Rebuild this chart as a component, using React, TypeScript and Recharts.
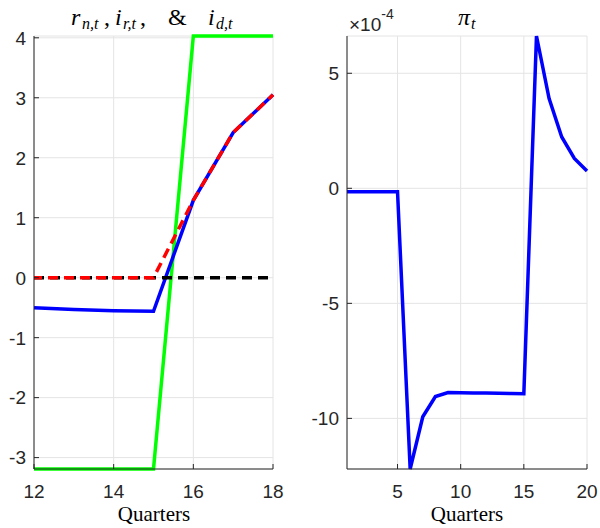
import React from 'react';
import { LineChart, Line, XAxis, YAxis, CartesianGrid } from 'recharts';

// left panel: rates, quarters 12..18
const leftQuarters = [12, 13, 14, 15, 16, 17, 18];
const iD = [-3.19, -3.19, -3.19, -3.19, 4.03, 4.03, 4.03];
const rN = [-0.5, -0.53, -0.55, -0.56, 1.29, 2.42, 3.05];
const iR = [0, 0, 0, 0, 1.29, 2.42, 3.05];
const zero = [0, 0, 0, 0, 0, 0, 0];
const leftXTicks = [12, 14, 16, 18];
const leftYTicks = [-3, -2, -1, 0, 1, 2, 3, 4];

// right panel: inflation (x 1e-4), quarters 1..20
const rightQuarters = [1, 2, 3, 4, 5, 6, 7, 8, 9, 10, 11, 12, 13, 14, 15, 16, 17, 18, 19, 20];
const piT = [-0.15, -0.15, -0.15, -0.15, -0.15, -12.2, -9.93, -9.05, -8.88, -8.89, -8.9, -8.9, -8.91, -8.92, -8.93, 6.62, 3.9, 2.23, 1.3, 0.75];
const rightXTicks = [5, 10, 15, 20];
const rightYTicks = [-10, -5, 0, 5];

const leftData = leftQuarters.map((q, i) => ({ q, iD: iD[i], rN: rN[i], iR: iR[i], zero: zero[i] }));
const rightData = rightQuarters.map((q, i) => ({ q, pi: piT[i] }));

const PLOT_TOP = 36;
const PLOT_BOTTOM = 469;
const AXIS = '#262626';
const GRID = '#e4e4e4';
const SANS = '"Liberation Sans", Arial, sans-serif';
const SERIF = '"Liberation Serif", "Times New Roman", serif';
const LW = 3.5;

const makeYTick = (axisX: number) => (props: any) => {
  const { y, payload } = props;
  return (
    <g>
      <line x1={axisX} x2={axisX + 5} y1={y} y2={y} stroke={AXIS} />
      <text x={axisX - 8} y={y} dy="0.36em" textAnchor="end" fill={AXIS} fontSize={19} fontFamily={SANS}>
        {String(payload.value)}
      </text>
    </g>
  );
};

const XTick = (props: any) => {
  const { x, payload } = props;
  return (
    <g>
      <line x1={x} x2={x} y1={PLOT_BOTTOM} y2={PLOT_BOTTOM - 5} stroke={AXIS} />
      <text x={x} y={PLOT_BOTTOM + 22} dy="0.36em" textAnchor="middle" fill={AXIS} fontSize={19} fontFamily={SANS}>
        {String(payload.value)}
      </text>
    </g>
  );
};

export default function App() {
  return (
    <div style={{ position: 'absolute', left: 0, top: 0, width: 600, height: 528, background: '#fff' }}>
      <div style={{ display: 'flex' }}>
        <LineChart width={300} height={528} data={leftData} margin={{ top: PLOT_TOP, right: 27, bottom: 0, left: 0 }}>
          <CartesianGrid stroke={GRID} />
          <XAxis
            dataKey="q"
            type="number"
            domain={[12, 18]}
            ticks={leftXTicks}
            height={528 - PLOT_BOTTOM}
            stroke={AXIS}
            tickLine={false}
            tick={XTick}
          />
          <YAxis
            type="number"
            domain={[-3.19, 4.03]}
            ticks={leftYTicks}
            width={34}
            stroke={AXIS}
            tickLine={false}
            tick={makeYTick(34)}
          />
          <Line dataKey="iD" stroke="#00ff00" strokeWidth={LW} dot={false} isAnimationActive={false} />
          <Line dataKey="rN" stroke="#0000ff" strokeWidth={LW} dot={false} isAnimationActive={false} />
          <Line dataKey="zero" stroke="#000" strokeWidth={LW} strokeDasharray="10 6" dot={false} isAnimationActive={false} />
          <Line dataKey="iR" stroke="#ff0000" strokeWidth={LW} strokeDasharray="10 6" strokeDashoffset={2} dot={false} isAnimationActive={false} />
        </LineChart>
        <LineChart width={300} height={528} data={rightData} margin={{ top: PLOT_TOP, right: 13, bottom: 0, left: 0 }}>
          <CartesianGrid stroke={GRID} />
          <XAxis
            dataKey="q"
            type="number"
            domain={[1, 20]}
            ticks={rightXTicks}
            height={528 - PLOT_BOTTOM}
            stroke={AXIS}
            tickLine={false}
            tick={XTick}
          />
          <YAxis
            type="number"
            domain={[-12.2, 6.62]}
            ticks={rightYTicks}
            width={47}
            stroke={AXIS}
            tickLine={false}
            tick={makeYTick(47)}
          />
          <Line dataKey="pi" stroke="#0000ff" strokeWidth={LW} dot={false} isAnimationActive={false} />
        </LineChart>
      </div>
      <svg width={600} height={528} style={{ position: 'absolute', left: 0, top: 0, pointerEvents: 'none' }}>
        <text y={25} fontFamily={SERIF} fontSize={24} fill="#000">
          <tspan x={71} fontStyle="italic">r</tspan>
          <tspan x={82} fontSize={16} fontStyle="italic" dy={4}>n,t</tspan>
          <tspan x={104} dy={-4}>,</tspan>
          <tspan x={115} fontStyle="italic">i</tspan>
          <tspan x={123} fontSize={16} fontStyle="italic" dy={4}>r,t</tspan>
          <tspan x={140} dy={-4}>,</tspan>
          <tspan x={168}>&amp;</tspan>
          <tspan x={208} fontStyle="italic">i</tspan>
          <tspan x={216} fontSize={16} fontStyle="italic" dy={4}>d,t</tspan>
        </text>
        <text y={31} fontFamily={SANS} fontSize={19} fill={AXIS}>
          <tspan x={349}>×10</tspan>
          <tspan fontSize={14} dy={-12}>-4</tspan>
        </text>
        <text y={25} fontFamily={SERIF} fontSize={24} fill="#000">
          <tspan x={458} fontStyle="italic">π</tspan>
          <tspan x={471} fontSize={16} fontStyle="italic" dy={4}>t</tspan>
        </text>
        <text x={154} y={521} textAnchor="middle" fontFamily={SERIF} fontSize={21} fill="#000">Quarters</text>
        <text x={467} y={521} textAnchor="middle" fontFamily={SERIF} fontSize={21} fill="#000">Quarters</text>
      </svg>
    </div>
  );
}
